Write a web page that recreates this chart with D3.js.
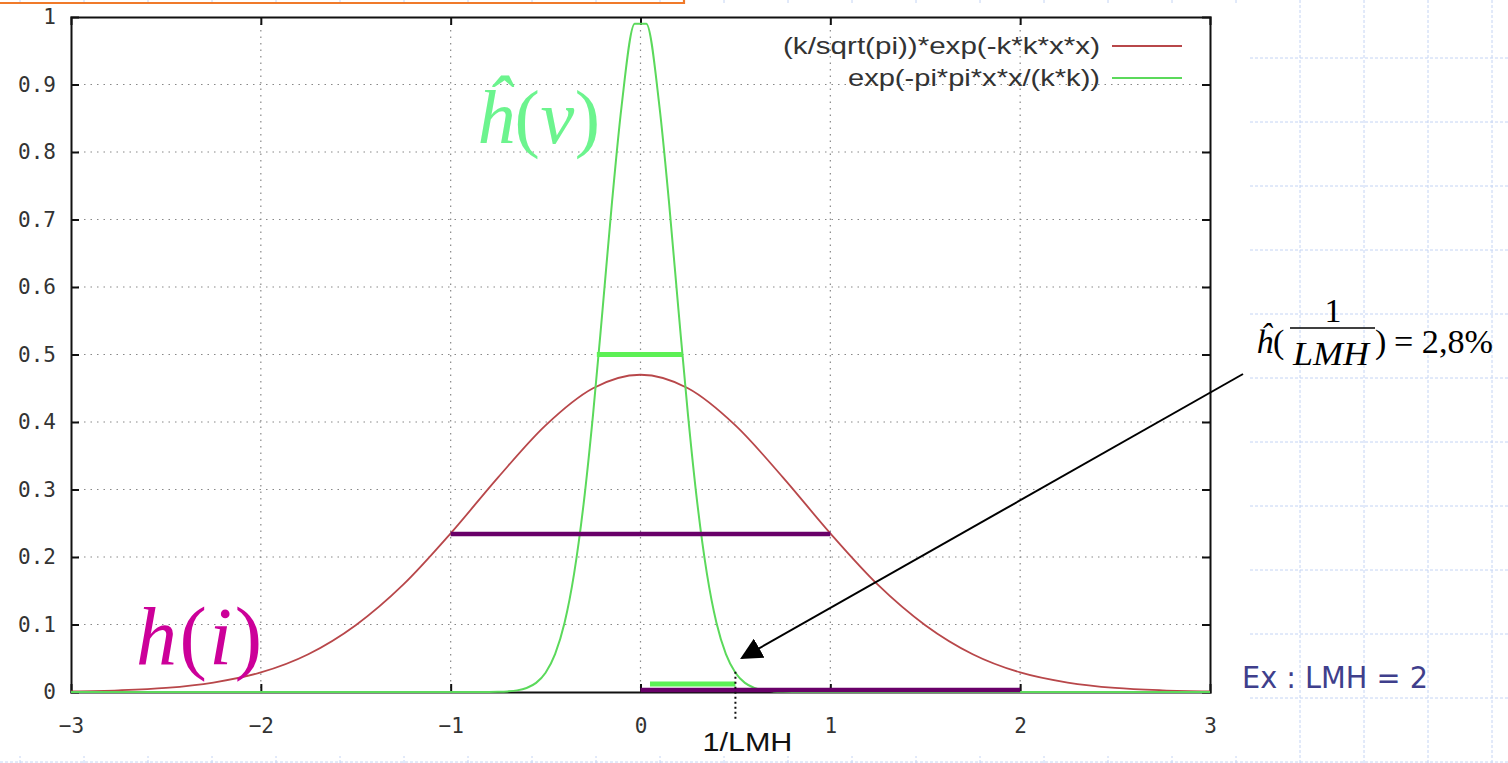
<!DOCTYPE html>
<html>
<head>
<meta charset="utf-8">
<script src="https://cdn.jsdelivr.net/npm/d3@7"></script>
<style>
  html, body { margin: 0; padding: 0; background: #fff; }
  svg { display: block; }
</style>
</head>
<body>
<svg id="chart" width="1508" height="763"></svg>
<script>
// Axis ticks
const xTicks = [-3, -2, -1, 0, 1, 2, 3];
const yTicks = [0, 0.1, 0.2, 0.3, 0.4, 0.5, 0.6, 0.7, 0.8, 0.9, 1];

// Red curve (spatial response) sampled along x
const redX = [-3, -2.75, -2.5, -2.25, -2, -1.75, -1.5, -1.25, -1, -0.75, -0.5, -0.25, 0,
              0.25, 0.5, 0.75, 1, 1.25, 1.5, 1.75, 2, 2.25, 2.5, 2.75, 3];
const redY = [0.001, 0.0025, 0.006, 0.014, 0.029, 0.056, 0.099, 0.159, 0.235, 0.318, 0.395, 0.450, 0.470,
              0.450, 0.395, 0.318, 0.235, 0.159, 0.099, 0.056, 0.029, 0.014, 0.006, 0.0025, 0.001];

// Green curve (frequency response) sampled along x
const greenX = [-3, -1, -0.8, -0.75, -0.7, -0.65, -0.6, -0.55, -0.5, -0.45, -0.4, -0.35, -0.3, -0.25, -0.2, -0.15, -0.1, -0.03, 0.03,
                0.1, 0.15, 0.2, 0.25, 0.3, 0.35, 0.4, 0.45, 0.5, 0.55, 0.6, 0.65, 0.7, 0.75, 0.8, 1, 3];
const greenY = [0, 0, 0.0001, 0.0003, 0.0009, 0.0024, 0.006, 0.0135, 0.0285, 0.056, 0.1025, 0.175, 0.278, 0.411, 0.566, 0.726, 0.867, 0.99, 0.99,
                0.867, 0.726, 0.566, 0.411, 0.278, 0.175, 0.1025, 0.056, 0.0285, 0.0135, 0.006, 0.0024, 0.0009, 0.0003, 0.0001, 0, 0];

// Width markers: [x0, x1, y]
const greenBars = [[-0.23, 0.22, 0.5], [0.05, 0.5, 0.012]];
const purpleBars = [[-1, 1, 0.234], [0, 2, 0.003]];

const legendLabels = ["(k/sqrt(pi))*exp(-k*k*x*x)", "exp(-pi*pi*x*x/(k*k))"];
const markerX = 0.5;

const svg = d3.select("#chart");
const W = 1508, H = 763;

// Slide background grid (light blue dashed)
const bg = svg.append("g");
d3.range(20, W + 1, 64).forEach(gx => {
  bg.append("line").attr("x1", gx).attr("x2", gx).attr("y1", 0).attr("y2", H)
    .attr("stroke", "#c4d4f4").attr("stroke-width", 1).attr("stroke-dasharray", "3,2");
});
d3.range(58, H + 1, 64).forEach(gy => {
  bg.append("line").attr("x1", 0).attr("x2", W).attr("y1", gy).attr("y2", gy)
    .attr("stroke", "#c4d4f4").attr("stroke-width", 1).attr("stroke-dasharray", "3,2");
});

// Chart panel
svg.append("rect").attr("x", 0).attr("y", 4).attr("width", 1250).attr("height", 752).attr("fill", "#fff");

// Orange frame edge at top
svg.append("path").attr("d", "M0,3 H684 V0").attr("fill", "none")
  .attr("stroke", "#f07a2a").attr("stroke-width", 2.2);

const x = d3.scaleLinear().domain([-3, 3]).range([71, 1210]);
const y = d3.scaleLinear().domain([0, 1]).range([692, 17]);

// Dotted grid
const grid = svg.append("g");
xTicks.slice(1, -1).forEach(t => {
  grid.append("line").attr("x1", x(t)).attr("x2", x(t)).attr("y1", y(1)).attr("y2", y(0))
    .attr("stroke", "#888").attr("stroke-width", 1.2).attr("stroke-dasharray", "1.5,5");
});
yTicks.slice(1, -1).forEach(t => {
  grid.append("line").attr("x1", x(-3)).attr("x2", x(3)).attr("y1", y(t)).attr("y2", y(t))
    .attr("stroke", "#888").attr("stroke-width", 1.2).attr("stroke-dasharray", "1.5,5");
});

// Axes (gnuplot style: inward ticks, mirrored)
const tickFont = "'DejaVu Sans Mono', monospace";
const axB = svg.append("g").attr("transform", `translate(0,${y(0)})`)
  .call(d3.axisBottom(x).tickValues(xTicks).tickSize(-8).tickPadding(26).tickFormat(d3.format("d")));
const axT = svg.append("g").attr("transform", `translate(0,${y(1)})`)
  .call(d3.axisTop(x).tickValues(xTicks).tickSize(-8).tickFormat(""));
const axL = svg.append("g").attr("transform", `translate(${x(-3)},0)`)
  .call(d3.axisLeft(y).tickValues(yTicks).tickSize(-8).tickPadding(15).tickFormat(d => d === 0 || d === 1 ? d3.format("d")(d) : d3.format(".1f")(d)));
const axR = svg.append("g").attr("transform", `translate(${x(3)},0)`)
  .call(d3.axisRight(y).tickValues(yTicks).tickSize(-8).tickFormat(""));
[axB, axT, axL, axR].forEach(a => {
  a.select(".domain").attr("stroke", "#111").attr("stroke-width", 2);
  a.selectAll(".tick line").attr("stroke", "#111").attr("stroke-width", 2);
  a.selectAll(".tick text").attr("fill", "#333").attr("font-family", tickFont).attr("font-size", 21);
});
axB.selectAll(".tick line").filter(d => d === -3 || d === 3).remove();
axT.selectAll(".tick line").filter(d => d === -3 || d === 3).remove();
axL.selectAll(".tick line").filter(d => d === 0 || d === 1).remove();
axR.selectAll(".tick line").filter(d => d === 0 || d === 1).remove();

// Curves
const line = d3.line().x(d => x(d[0])).y(d => y(d[1])).curve(d3.curveMonotoneX);
svg.append("path").datum(redX.map((v, i) => [v, redY[i]]))
  .attr("d", line).attr("fill", "none").attr("stroke", "#b8474a").attr("stroke-width", 1.8);
svg.append("path").datum(greenX.map((v, i) => [v, greenY[i]]))
  .attr("d", line).attr("fill", "none").attr("stroke", "#5bd95b").attr("stroke-width", 2);

// Width markers
purpleBars.forEach(b => {
  svg.append("line").attr("x1", x(b[0])).attr("x2", x(b[1])).attr("y1", y(b[2])).attr("y2", y(b[2]))
    .attr("stroke", "#690069").attr("stroke-width", 4.5);
});
greenBars.forEach(b => {
  svg.append("line").attr("x1", x(b[0])).attr("x2", x(b[1])).attr("y1", y(b[2])).attr("y2", y(b[2]))
    .attr("stroke", "#5cf055").attr("stroke-width", 5);
});

// Legend
const legend = svg.append("g");
const legendColors = ["#b8474a", "#5bd95b"];
const legendWidths = [317, 252];
legendLabels.forEach((t, i) => {
  const ly = 46 + i * 32;
  legend.append("text").attr("x", 1100).attr("y", ly + 8).attr("text-anchor", "end")
    .attr("font-family", "'Liberation Sans', Arial, sans-serif").attr("font-size", 24).attr("fill", "#333")
    .attr("textLength", legendWidths[i]).attr("lengthAdjust", "spacingAndGlyphs").text(t);
  legend.append("line").attr("x1", 1112).attr("x2", 1182).attr("y1", ly).attr("y2", ly)
    .attr("stroke", legendColors[i]).attr("stroke-width", 1.8);
});

// 1/LMH marker
svg.append("line").attr("x1", x(markerX)).attr("x2", x(markerX)).attr("y1", y(0.03)).attr("y2", 720)
  .attr("stroke", "#111").attr("stroke-width", 2).attr("stroke-dasharray", "2,3");
svg.append("text").attr("x", x(markerX) + 12).attr("y", 751).attr("text-anchor", "middle")
  .attr("font-family", "'Liberation Sans', Arial, sans-serif").attr("font-size", 26).attr("fill", "#111")
  .attr("textLength", 90).attr("lengthAdjust", "spacingAndGlyphs").text("1/LMH");

// Arrow to the green curve at 1/LMH
svg.append("defs").append("marker").attr("id", "arrowhead").attr("viewBox", "0 0 10 10")
  .attr("refX", 9).attr("refY", 5).attr("markerWidth", 22).attr("markerHeight", 22)
  .attr("markerUnits", "userSpaceOnUse").attr("orient", "auto")
  .append("path").attr("d", "M0,0 L10,5 L0,10 z").attr("fill", "#000");
svg.append("line").attr("x1", 1243).attr("y1", 374).attr("x2", 742).attr("y2", 658)
  .attr("stroke", "#000").attr("stroke-width", 2).attr("marker-end", "url(#arrowhead)");

// Formula annotation
const serif = "'Liberation Serif', 'Times New Roman', serif";
const f = svg.append("g").attr("font-family", serif).attr("fill", "#000");
f.append("text").attr("x", 1256).attr("y", 353).attr("font-size", 34)
  .call(t => {
    t.append("tspan").attr("font-style", "italic").text("\u0125");
    t.append("tspan").text("(");
  });
f.append("text").attr("x", 1333).attr("y", 322).attr("font-size", 34).attr("text-anchor", "middle").text("1");
f.append("line").attr("x1", 1290).attr("x2", 1375).attr("y1", 328).attr("y2", 328).attr("stroke", "#000").attr("stroke-width", 1.5);
f.append("text").attr("x", 1331).attr("y", 365).attr("font-size", 34).attr("font-style", "italic").attr("text-anchor", "middle")
  .attr("textLength", 76).attr("lengthAdjust", "spacingAndGlyphs").text("LMH");
f.append("text").attr("x", 1375).attr("y", 353).attr("font-size", 34).text(")");
f.append("text").attr("x", 1394).attr("y", 353).attr("font-size", 34)
  .attr("textLength", 99).attr("lengthAdjust", "spacingAndGlyphs").text("= 2,8%");

// Curve names
svg.append("text").attr("x", 476).attr("y", 143).attr("font-family", serif)
  .attr("font-size", 76).attr("fill", "#6cf48e")
  .attr("textLength", 124).attr("lengthAdjust", "spacing")
  .call(t => {
    t.append("tspan").attr("font-style", "italic").text("\u0125");
    t.append("tspan").text("(");
    t.append("tspan").attr("font-style", "italic").text("\u03BD");
    t.append("tspan").text(")");
  });
svg.append("text").attr("x", 136).attr("y", 664).attr("font-family", serif)
  .attr("font-size", 82).attr("fill", "#cc0099")
  .attr("textLength", 126).attr("lengthAdjust", "spacing")
  .call(t => {
    t.append("tspan").attr("font-style", "italic").text("h");
    t.append("tspan").text("(");
    t.append("tspan").attr("font-style", "italic").text("i");
    t.append("tspan").text(")");
  });

// Example note
svg.append("text").attr("x", 1242).attr("y", 688).attr("font-family", "'DejaVu Sans', Verdana, sans-serif")
  .attr("font-size", 30).attr("fill", "#3f3f8c").attr("textLength", 186).attr("lengthAdjust", "spacingAndGlyphs")
  .text("Ex : LMH = 2");
</script>
</body>
</html>
